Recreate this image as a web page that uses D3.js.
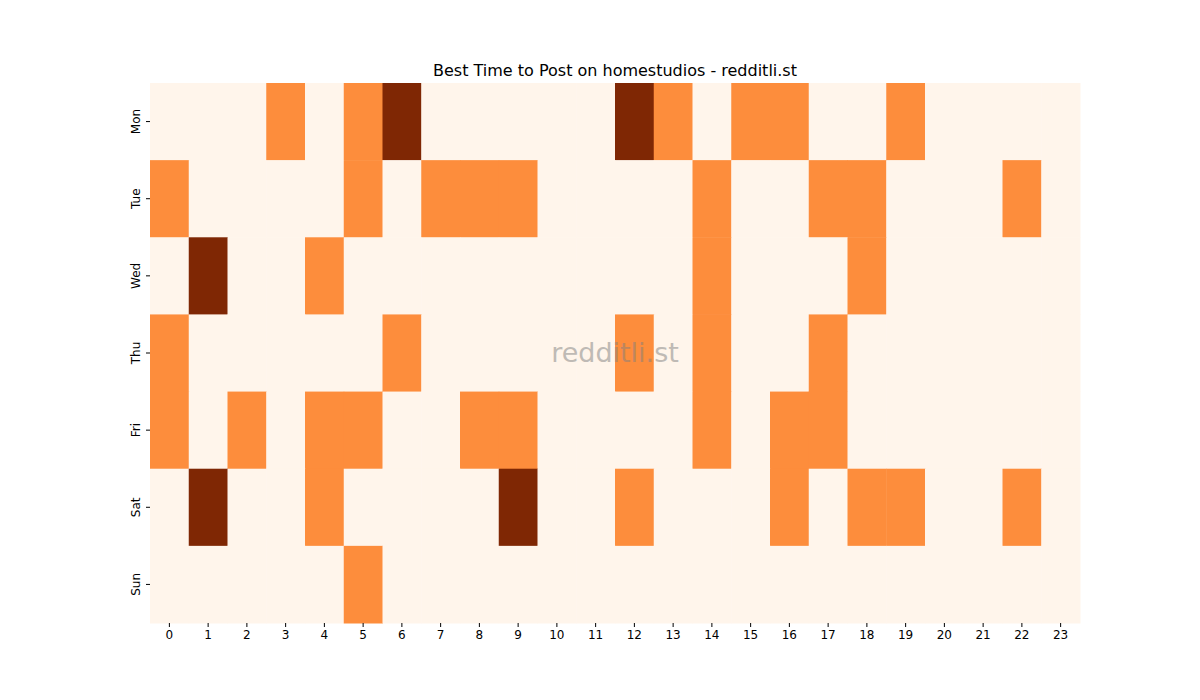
<!DOCTYPE html>
<html>
<head>
<meta charset="utf-8">
<script src="https://cdn.jsdelivr.net/npm/d3@7"></script>
<style>body{margin:0;background:#fff;font-family:"DejaVu Sans",sans-serif;}</style>
</head>
<body>
<div id="chart"></div>
<script>
let days = ["Mon", "Tue", "Wed", "Thu", "Fri", "Sat", "Sun"];
let hours = d3.range(24);
// activity level per day, one value per hour (0 low, 1 mid, 2 high)
let mon = [0,0,0,1,0,1,2,0,0,0,0,0,2,1,0,1,1,0,0,1,0,0,0,0];
let tue = [1,0,0,0,0,1,0,1,1,1,0,0,0,0,1,0,0,1,1,0,0,0,1,0];
let wed = [0,2,0,0,1,0,0,0,0,0,0,0,0,0,1,0,0,0,1,0,0,0,0,0];
let thu = [1,0,0,0,0,0,1,0,0,0,0,0,1,0,1,0,0,1,0,0,0,0,0,0];
let fri = [1,0,1,0,1,1,0,0,1,1,0,0,0,0,1,0,1,1,0,0,0,0,0,0];
let sat = [0,2,0,0,1,0,0,0,0,2,0,0,1,0,0,0,1,0,1,1,0,0,1,0];
let sun = [0,0,0,0,0,1,0,0,0,0,0,0,0,0,0,0,0,0,0,0,0,0,0,0];
let rows = [mon, tue, wed, thu, fri, sat, sun];

let cells = [];
rows.forEach(function(r, i) {
    r.forEach(function(v, h) { cells.push({day: days[i], hour: h, value: v}); });
});

let svg = d3.select("#chart").append("svg").attr("width", 1200).attr("height", 700);
let m = {left: 150, right: 120, top: 83, bottom: 77};
let w = 1200 - m.left - m.right, h = 700 - m.top - m.bottom;
let g = svg.append("g").attr("transform", "translate(" + m.left + "," + m.top + ")");

let x = d3.scaleBand().domain(hours).range([0, w]);
let y = d3.scaleBand().domain(days).range([0, h]);
let color = d3.scaleOrdinal().domain([0, 1, 2]).range(["#fff5eb", "#fd8d3c", "#7f2704"]);

g.selectAll("rect").data(cells).enter().append("rect")
    .attr("x", function(d) { return x(d.hour); })
    .attr("y", function(d) { return y(d.day); })
    .attr("width", x.bandwidth() + 0.5)
    .attr("height", y.bandwidth() + 0.5)
    .attr("fill", function(d) { return color(d.value); });

let xa = g.append("g").attr("transform", "translate(0," + h + ")").call(d3.axisBottom(x).tickSize(4));
let ya = g.append("g").call(d3.axisLeft(y).tickSize(4));
[xa, ya].forEach(function(a) {
    a.select(".domain").remove();
    a.selectAll("text").attr("font-size", 12).attr("font-family", "DejaVu Sans").attr("fill", "#000");
});
ya.selectAll("text").attr("transform", "rotate(-90)").attr("text-anchor", "middle").attr("x", 0).attr("dx", 0).attr("y", -10).attr("dy", 0);

svg.append("text").attr("x", m.left + w / 2).attr("y", 76).attr("text-anchor", "middle")
    .attr("font-size", 16).text("Best Time to Post on homestudios - redditli.st");

g.append("text").attr("x", w / 2).attr("y", h / 2).attr("dy", "0.35em").attr("text-anchor", "middle")
    .attr("font-size", 27).attr("fill", "#808080").attr("opacity", 0.5).text("redditli.st");
</script>
</body>
</html>
